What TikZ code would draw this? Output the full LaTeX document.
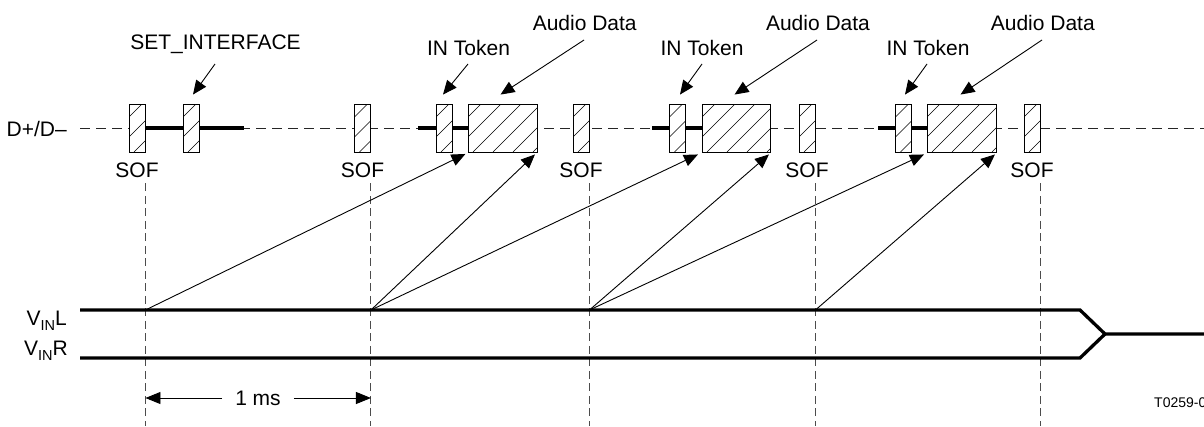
\documentclass[tikz,border=0pt]{standalone}
\usepackage{fontspec}
\setmainfont{Liberation Sans}
\usetikzlibrary{arrows.meta}
\begin{document}
\begin{tikzpicture}[x=1pt,y=-1pt,
  every node/.style={font=\fontsize{21}{24}\selectfont, text=black},
  lab/.style={inner sep=0pt, anchor=base},
  rlab/.style={inner sep=0pt, anchor=base east},
  hatchbox/.style={draw=black, line width=0.9pt, fill=white, inner sep=0pt,
    minimum height=48pt,
    path picture={
      \foreach \k in {-3,...,4}{
        \draw[line width=0.6pt] ([xshift={\k*20pt+5pt}]path picture bounding box.south west) -- ++(48pt,48pt);
      }}},
  conn/.style={line width=0.9pt, -{Triangle[length=14pt,width=12pt]}},
  dimarrow/.style={line width=0.9pt, -{Triangle[length=15pt,width=12pt]}},
  sigline/.style={line width=3.3pt, line join=miter},
  busline/.style={line width=3.4pt},
  hdash/.style={line width=1pt, black!85, dash pattern=on 10pt off 6pt},
  vdash/.style={line width=1pt, black!70, dash pattern=on 8pt off 4.5pt},
]
\useasboundingbox (0,0) rectangle (1204,426);

% reference coordinates
\coordinate (base) at (0,426);
\coordinate (vl) at (80,310);
\coordinate (vr) at (80,358);
\coordinate (dline) at (80,128);

% D+/D- dashed line
\draw[hdash] (dline) -- (1204,128);

% boxes
\node[hatchbox, minimum width=16pt] (sof1) at (137,128) {};
\node[hatchbox, minimum width=16pt] (si)   at (191,128) {};
\node[hatchbox, minimum width=16pt] (sof2) at (362.5,128) {};
\node[hatchbox, minimum width=16pt] (in1)  at (444,128) {};
\node[hatchbox, minimum width=69pt] (ad1)  at (502.5,128) {};
\node[hatchbox, minimum width=16pt] (sof3) at (581,128) {};
\node[hatchbox, minimum width=16pt] (in2)  at (677.5,128) {};
\node[hatchbox, minimum width=68pt] (ad2)  at (736,128) {};
\node[hatchbox, minimum width=16pt] (sof4) at (807,128) {};
\node[hatchbox, minimum width=16pt] (in3)  at (903.5,128) {};
\node[hatchbox, minimum width=69pt] (ad3)  at (961.5,128) {};
\node[hatchbox, minimum width=16pt] (sof5) at (1032,128) {};

% thick bus segments
\draw[busline] (sof1.east) -- (si.west);
\draw[busline] (si.east) -- ++(45,0);
\draw[busline] (in1.west) -- ++(-18,0);
\draw[busline] (in1.east) -- (ad1.west);
\draw[busline] (in2.west) -- ++(-17,0);
\draw[busline] (in2.east) -- (ad2.west);
\draw[busline] (in3.west) -- ++(-17,0);
\draw[busline] (in3.east) -- (ad3.west);

% SOF labels
\node[lab] (s1) at (137,177) {SOF};
\node[lab] (s2) at (362.5,177) {SOF};
\node[lab] (s3) at (581,177) {SOF};
\node[lab] (s4) at (807,177) {SOF};
\node[lab] (s5) at (1032,177) {SOF};

% left labels
\node[rlab] (ldd) at (67,136) {D+/D--};
\node[rlab] (lvl) at (67,325) {V\raisebox{-5pt}{\fontsize{14.5}{14}\selectfont IN}L};
\node[rlab] (lvr) at (68,355) {V\raisebox{-5pt}{\fontsize{14.5}{14}\selectfont IN}R};

% top labels
\node[lab] (lsi) at (215.5,49) {SET\_INTERFACE};
\node[lab] (lin1) at (468.5,55) {IN Token};
\node[lab] (lin2) at (702,55) {IN Token};
\node[lab] (lin3) at (928,55) {IN Token};
\node[lab] (lad1) at (584.7,30) {Audio Data};
\node[lab] (lad2) at (818,30) {Audio Data};
\node[lab] (lad3) at (1042.8,30) {Audio Data};

% top arrows
\draw[conn] ([xshift=-0.5pt,yshift=-15pt]lsi.base) -- ([xshift=2pt,yshift=9pt]si.north);
\draw[conn] ([xshift=-0.5pt,yshift=-9pt]lin1.base) -- ([xshift=-1pt,yshift=9pt]in1.north);
\draw[conn] ([yshift=-9pt]lin2.base) -- ([xshift=2.5pt,yshift=9pt]in2.north);
\draw[conn] ([xshift=-1pt,yshift=-9pt]lin3.base) -- ([xshift=1.5pt,yshift=9pt]in3.north);
\draw[conn] ([xshift=-0.7pt,yshift=-10pt]lad1.base) -- ([xshift=33pt,yshift=9pt]ad1.north west);
\draw[conn] ([xshift=-1pt,yshift=-10pt]lad2.base) -- ([xshift=33pt,yshift=9pt]ad2.north west);
\draw[conn] ([xshift=-0.8pt,yshift=-10pt]lad3.base) -- ([xshift=34pt,yshift=9pt]ad3.north west);

% vertical dashed lines
\foreach \s in {sof1,sof2,sof3,sof4,sof5}{
  \draw[vdash] ([yshift=-31pt]\s.south east) -- (\s.south east |- base);
}

% V_IN lines
\coordinate (jl) at (1080,310);
\coordinate (jr) at (1080,358);
\coordinate (jm) at (1105,334);
\draw[sigline] (vl) -- (jl) -- (jm) -- (1204,334);
\draw[sigline] (vr) -- (jr) -- (jm);

% origins on V_IN L
\coordinate (o1) at (sof1.south east |- vl);
\coordinate (o2) at (sof2.south east |- vl);
\coordinate (o3) at (sof3.south east |- vl);
\coordinate (o4) at (sof4.south east |- vl);

% arrows to packets
\draw[conn] (o1) -- ([xshift=13pt,yshift=-1.5pt]in1.south east);
\draw[conn] (o2) -- ([xshift=-2.5pt,yshift=-2pt]ad1.south east);
\draw[conn] (o2) -- ([xshift=12pt,yshift=-2pt]in2.south east);
\draw[conn] (o3) -- ([xshift=-1.5pt,yshift=-2pt]ad2.south east);
\draw[conn] (o3) -- ([xshift=12pt,yshift=-2pt]in3.south east);
\draw[conn] (o4) -- ([xshift=-1.5pt,yshift=-2pt]ad3.south east);

% 1 ms dimension
\coordinate (dl) at (sof1.south east |- 0,398);
\coordinate (dr) at (sof2.south east |- 0,398);
\node[lab] (ms) at (258,405.5) {1 ms};
\draw[dimarrow] ([xshift=-13pt,yshift=7.5pt]ms.base west) -- (dl);
\draw[dimarrow] ([xshift=13pt,yshift=7.5pt]ms.base east) -- (dr);

% figure code (clipped at the right edge as in the reference)
\node[inner sep=0pt, anchor=base west, font=\fontsize{14}{16}\selectfont] (code) at (1154,407) {T0259-01};
\end{tikzpicture}
\end{document}
